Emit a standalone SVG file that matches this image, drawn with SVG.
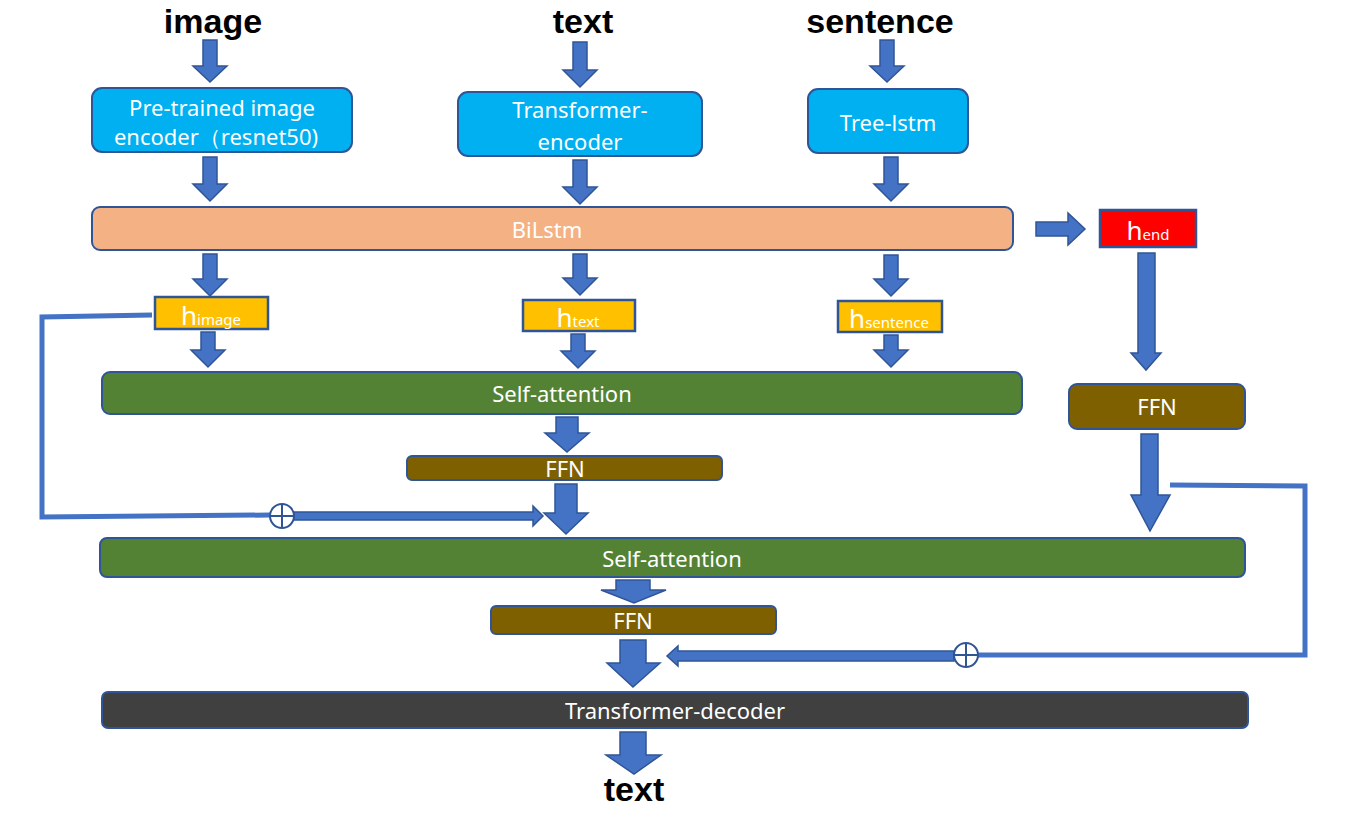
<svg xmlns="http://www.w3.org/2000/svg" width="1358" height="814" viewBox="0 0 1358 814">
<style>
.title{font-family:"Liberation Sans",Arial,sans-serif;font-weight:bold;font-size:34px;fill:#000;text-anchor:middle}
.lbl{font-family:"Noto Sans","Open Sans",sans-serif;font-size:22px;fill:#fff;text-anchor:middle;dominant-baseline:central}
.blue{fill:#00B0F0;stroke:#2F5597;stroke-width:2}
.peach{fill:#F4B183;stroke:#2F5597;stroke-width:2}
.green{fill:#548235;stroke:#2F5597;stroke-width:2}
.brown{fill:#7F6000;stroke:#2F5597;stroke-width:2}
.dark{fill:#404040;stroke:#2F5597;stroke-width:2}
.yellow{fill:#FFC000;stroke:#2F5597;stroke-width:2.5}
.red{fill:#FF0000;stroke:#2F5597;stroke-width:2.5}
.arr{fill:#4472C4;stroke:#2F5597;stroke-width:1.5}
.line{fill:none;stroke:#4472C4;stroke-width:5}
.plus{fill:#fff;stroke:#2F5597;stroke-width:2}
.hs{font-family:"Noto Sans","Open Sans",sans-serif;fill:#fff;text-anchor:middle}
</style>

<g id="titles">
<text class="title" x="213" y="33">image</text>
<text class="title" x="583" y="33">text</text>
<text class="title" x="880" y="33">sentence</text>
<text class="title" x="634" y="801">text</text>
</g>

<g id="node-pretrained"><rect class="blue" x="92" y="88" width="260" height="64" rx="10"/>
<text class="lbl" x="222" y="107">Pre-trained image</text><text class="lbl" x="216" y="136">encoder（resnet50)</text></g>
<g id="node-transformer-encoder"><rect class="blue" x="458" y="92" width="244" height="64" rx="10"/>
<text class="lbl" x="580" y="109">Transformer-</text><text class="lbl" x="580" y="141">encoder</text></g>
<g id="node-treelstm"><rect class="blue" x="808" y="89" width="160" height="64" rx="10"/>
<text class="lbl" x="888" y="122">Tree-lstm</text></g>

<g id="node-bilstm"><rect class="peach" x="92" y="207" width="921" height="43" rx="8"/>
<text class="lbl" x="547" y="229">BiLstm</text></g>

<g id="node-hend"><rect class="red" x="1100" y="210" width="96" height="37"/>
<text class="hs" x="1148" y="240"><tspan font-size="26">h</tspan><tspan font-size="15">end</tspan></text></g>

<g id="node-himage"><rect class="yellow" x="155" y="297" width="113" height="32"/>
<text class="hs" x="211" y="325"><tspan font-size="26">h</tspan><tspan font-size="15">image</tspan></text></g>
<g id="node-htext"><rect class="yellow" x="523" y="300" width="112" height="31"/>
<text class="hs" x="578" y="327"><tspan font-size="26">h</tspan><tspan font-size="15">text</tspan></text></g>
<g id="node-hsentence"><rect class="yellow" x="838" y="301" width="104" height="31"/>
<text class="hs" x="889" y="328"><tspan font-size="26">h</tspan><tspan font-size="15">sentence</tspan></text></g>

<g id="node-selfatt1"><rect class="green" x="102" y="372" width="920" height="42" rx="8"/>
<text class="lbl" x="562" y="393">Self-attention</text></g>
<g id="node-ffn-right"><rect class="brown" x="1069" y="384" width="176" height="45" rx="8"/>
<text class="lbl" x="1157" y="406">FFN</text></g>
<g id="node-ffn1"><rect class="brown" x="407" y="456" width="315" height="24" rx="5"/>
<text class="lbl" x="565" y="468">FFN</text></g>
<g id="node-selfatt2"><rect class="green" x="100" y="538" width="1145" height="39" rx="7"/>
<text class="lbl" x="672" y="558">Self-attention</text></g>
<g id="node-ffn2"><rect class="brown" x="491" y="606" width="285" height="28" rx="5"/>
<text class="lbl" x="633" y="620">FFN</text></g>
<g id="node-decoder"><rect class="dark" x="102" y="692" width="1146" height="36" rx="6"/>
<text class="lbl" x="675" y="710">Transformer-decoder</text></g>

<g id="connectors">
<path class="arr" d="M203,40 H217 V66 H227 L210,82 L193,66 H203 Z"/>
<path class="arr" d="M573,42 H587 V70 H597 L580,87 L563,70 H573 Z"/>
<path class="arr" d="M880,40 H894 V66 H904 L887,82 L870,66 H880 Z"/>
<path class="arr" d="M203,157 H217 V184 H227 L210,201 L193,184 H203 Z"/>
<path class="arr" d="M573,160 H587 V187 H597 L580,204 L563,187 H573 Z"/>
<path class="arr" d="M884,157 H898 V184 H908 L891,201 L874,184 H884 Z"/>
<path class="arr" d="M203,254 H217 V279 H227 L210,296 L193,279 H203 Z"/>
<path class="arr" d="M573,254 H587 V278 H597 L580,295 L563,278 H573 Z"/>
<path class="arr" d="M884,255 H898 V279 H908 L891,296 L874,279 H884 Z"/>
<path class="arr" d="M1036,222 H1068 V213 L1085,229 L1068,245 V236 H1036 Z"/>
<path class="arr" d="M1138,253 H1155 V353 H1161 L1146,370 L1131,353 H1138 Z"/>
<path class="arr" d="M201,332 H215 V350 H225 L208,367 L191,350 H201 Z"/>
<path class="arr" d="M571,334 H585 V351 H595 L578,368 L561,351 H571 Z"/>
<path class="arr" d="M884,335 H898 V350 H908 L891,367 L874,350 H884 Z"/>
<path class="arr" d="M556,417 H578 V433 H589 L567,452 L545,433 H556 Z"/>
<path class="arr" d="M555,484 H577 V513 H588 L566,534 L544,513 H555 Z"/>
<path class="arr" d="M1141,434 H1158 V495 H1170 L1150,531 L1131,495 H1141 Z"/>
<path class="arr" d="M616,580 H650 V590 H666 L634,603 L601,590 H616 Z"/>
<path class="arr" d="M620,640 H646 V663 H660 L633,687 L607,663 H620 Z"/>
<path class="arr" d="M620,732 H646 V755 H661 L634,774 L606,755 H620 Z"/>
<polyline class="line" points="152,315 42,317 42,517 270,515"/>
<polyline class="line" points="1170,485 1305,486 1305,655 978,655"/>
<path class="arr" d="M294,512 H533 V506 L543,516 L533,526 V520 H294 Z"/>
<path class="arr" d="M954,651 H678 V646 L667,656 L678,666 V661 H954 Z"/>
<g id="plus-left"><circle class="plus" cx="282" cy="516" r="12"/><path d="M270,516 H294 M282,504 V528" stroke="#2F5597" stroke-width="2"/></g>
<g id="plus-right"><circle class="plus" cx="966" cy="655" r="12"/><path d="M954,655 H978 M966,643 V667" stroke="#2F5597" stroke-width="2"/></g>
</g>
</svg>
